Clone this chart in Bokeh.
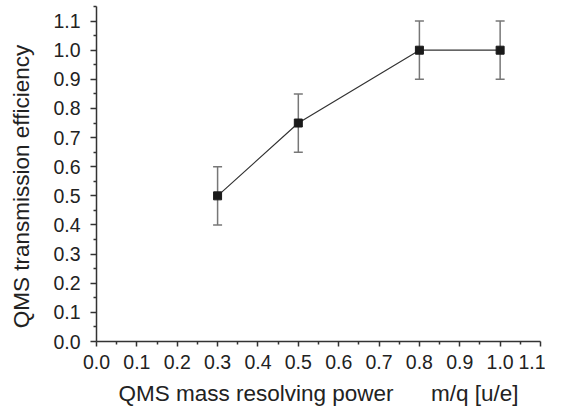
from bokeh.plotting import figure
from bokeh.models import ColumnDataSource, Whisker, TeeHead, FixedTicker, Range1d, CustomJSTickFormatter
from bokeh.embed import file_html
from bokeh.resources import INLINE

# data
resolving_power = [0.3, 0.5, 0.8, 1.0]
efficiency = [0.5, 0.75, 1.0, 1.0]
efficiency_err = [0.1, 0.1, 0.1, 0.1]
x_ticks = [0.0, 0.1, 0.2, 0.3, 0.4, 0.5, 0.6, 0.7, 0.8, 0.9, 1.0, 1.1]
y_ticks = [0.0, 0.1, 0.2, 0.3, 0.4, 0.5, 0.6, 0.7, 0.8, 0.9, 1.0, 1.1]

src = ColumnDataSource(dict(
    x=resolving_power,
    y=efficiency,
    upper=[v + e for v, e in zip(efficiency, efficiency_err)],
    lower=[v - e for v, e in zip(efficiency, efficiency_err)],
))

p = figure(width=545, height=412, output_backend="svg", toolbar_location=None,
           x_range=Range1d(0, 1.1), y_range=Range1d(0, 1.15),
           min_border_left=96, min_border_right=5, min_border_top=6, min_border_bottom=71)
p.outline_line_color = None
p.xgrid.visible = False
p.ygrid.visible = False
p.background_fill_color = "white"
p.border_fill_color = "white"

FONT = "Liberation Sans"
fmt = CustomJSTickFormatter(code="return tick.toFixed(1);")
for ax, ticks in ((p.xaxis[0], x_ticks), (p.yaxis[0], y_ticks)):
    minors = [round(t + 0.05, 2) for t in ticks]
    ax.ticker = FixedTicker(ticks=ticks, minor_ticks=minors)
    ax.formatter = fmt
    ax.axis_line_color = "#333333"
    ax.axis_line_width = 1.5
    ax.major_tick_line_color = "#333333"
    ax.minor_tick_line_color = "#333333"
    ax.major_tick_line_width = 1.5
    ax.minor_tick_line_width = 1.5
    ax.major_tick_in = 0
    ax.minor_tick_in = 0
    ax.major_label_text_font = FONT
    ax.major_label_text_font_size = "19.5px"
    ax.major_label_text_color = "#222222"
    ax.axis_label_text_font = FONT
    ax.axis_label_text_font_size = "22.5px"
    ax.axis_label_text_font_style = "normal"
    ax.axis_label_text_color = "#222222"

p.xaxis.major_tick_out = 5
p.xaxis.minor_tick_out = 3
p.yaxis.major_tick_out = 6
p.yaxis.minor_tick_out = 3
p.xaxis.major_label_standoff = 8
p.yaxis.major_label_standoff = 10
p.xaxis.axis_label_standoff = 9
p.yaxis.axis_label_standoff = 16
p.xaxis.axis_label = "QMS mass resolving power" + "\u00a0" * 6 + "m/q [u/e]"
p.yaxis.axis_label = "QMS transmission efficiency" + "\u00a0" * 4

p.line("x", "y", source=src, line_color="#333333", line_width=1.2)
w = Whisker(base="x", upper="upper", lower="lower", source=src,
            line_color="#777777", line_width=1.5,
            upper_head=TeeHead(size=9, line_color="#777777", line_width=1.5),
            lower_head=TeeHead(size=9, line_color="#777777", line_width=1.5))
p.add_layout(w)
p.scatter("x", "y", source=src, marker="square", size=8,
          fill_color="#1a1a1a", line_color="#1a1a1a")

open("out.html", "w").write(file_html(p, INLINE))
